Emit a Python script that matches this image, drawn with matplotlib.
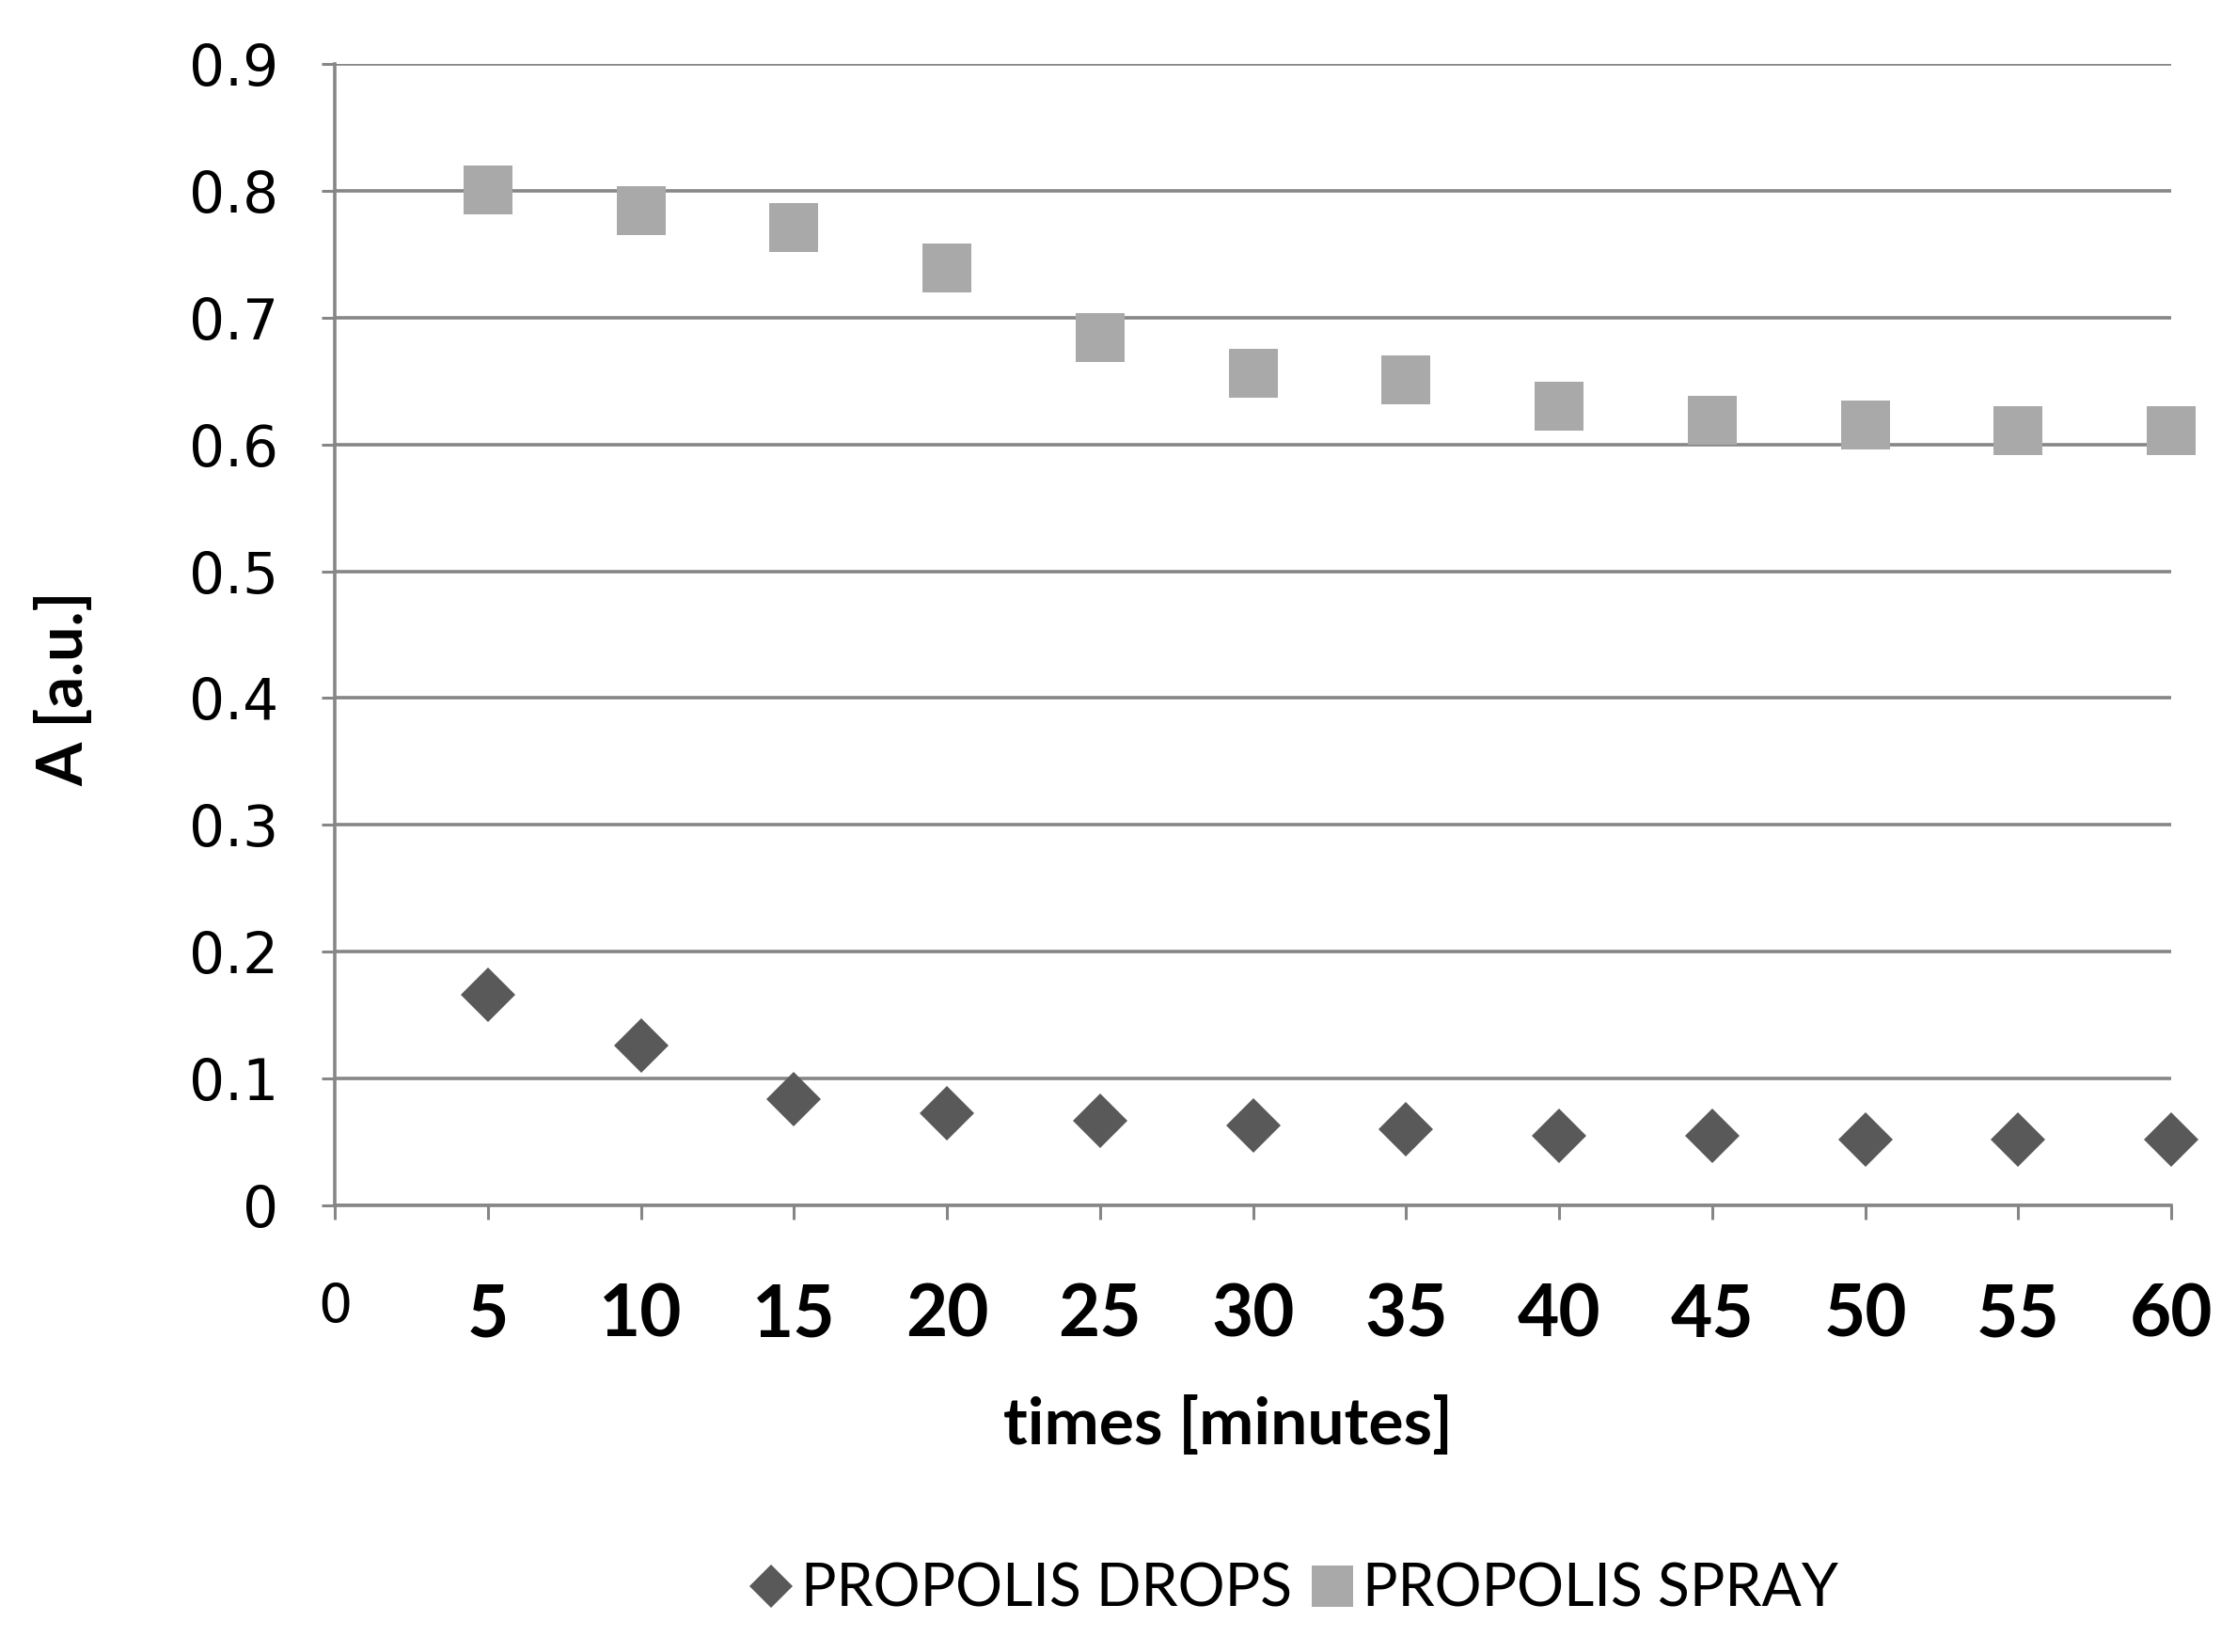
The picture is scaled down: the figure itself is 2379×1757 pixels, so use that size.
import matplotlib.pyplot as plt
from matplotlib.lines import Line2D

# data
times = [5, 10, 15, 20, 25, 30, 35, 40, 45, 50, 55, 60]
drops = [0.166, 0.126, 0.084, 0.073, 0.067, 0.063, 0.060, 0.055, 0.055, 0.052, 0.052, 0.052]
spray = [0.801, 0.784, 0.771, 0.739, 0.684, 0.656, 0.651, 0.630, 0.619, 0.615, 0.611, 0.611]
x_ticks = [0, 5, 10, 15, 20, 25, 30, 35, 40, 45, 50, 55, 60]
y_ticks = [0, 0.1, 0.2, 0.3, 0.4, 0.5, 0.6, 0.7, 0.8, 0.9]
y_ticklabels = ["0", "0.1", "0.2", "0.3", "0.4", "0.5", "0.6", "0.7", "0.8", "0.9"]

DROP_COLOR = "#595959"
SPRAY_COLOR = "#a9a9a9"
GRID_COLOR = "#868686"

fig = plt.figure(figsize=(23.79, 17.57), dpi=100)
ax = fig.add_axes([0.1497, 0.2703, 0.8209, 0.691])

ax.plot(times, drops, linestyle="none", marker="D", markersize=30,
        color=DROP_COLOR, markeredgewidth=0, clip_on=False, zorder=3)
ax.plot(times, spray, linestyle="none", marker="s", markersize=38,
        color=SPRAY_COLOR, markeredgewidth=0, clip_on=False, zorder=3)

ax.set_xlim(0, 60)
ax.set_ylim(0, 0.9)

ax.set_yticks(y_ticks)
ax.set_yticklabels(y_ticklabels, fontsize=43, family="DejaVu Sans")
ax.set_xticks(x_ticks)
ax.set_xticklabels([str(t) for t in x_ticks], fontsize=55, family="Lato",
                   fontweight="bold")
first = ax.get_xticklabels()[0]
first.set_fontweight("normal")
first.set_family("DejaVu Sans")
first.set_fontsize(41)

ax.tick_params(axis="x", length=11, width=2.2, color=GRID_COLOR, pad=48)
ax.tick_params(axis="y", length=10, width=2.2, color=GRID_COLOR, pad=33)

ax.grid(axis="y", color=GRID_COLOR, linewidth=2.6)
ax.set_axisbelow(True)
for side in ["top", "right"]:
    ax.spines[side].set_visible(False)
for side in ["left", "bottom"]:
    ax.spines[side].set_color(GRID_COLOR)
    ax.spines[side].set_linewidth(2.6)

fig.text(0.549, 0.137, "times [minutes]", fontsize=50, family="Lato",
         fontweight="bold", ha="center", va="center")
fig.text(0.029, 0.583, "A [a.u.]", fontsize=48, family="Lato",
         fontweight="bold", ha="center", va="center", rotation=90)

handles = [
    Line2D([], [], linestyle="none", marker="D", markersize=23,
           color=DROP_COLOR, markeredgewidth=0),
    Line2D([], [], linestyle="none", marker="s", markersize=32,
           color=SPRAY_COLOR, markeredgewidth=0),
]
fig.legend(handles, ["PROPOLIS DROPS", "PROPOLIS SPRAY"], loc="center",
           bbox_to_anchor=(0.578, 0.0376), ncol=2, frameon=False,
           prop={"family": "Lato", "size": 45}, handletextpad=0.1,
           columnspacing=0.3, handlelength=0.8)

fig.savefig("out.png", dpi=100, facecolor="white")
